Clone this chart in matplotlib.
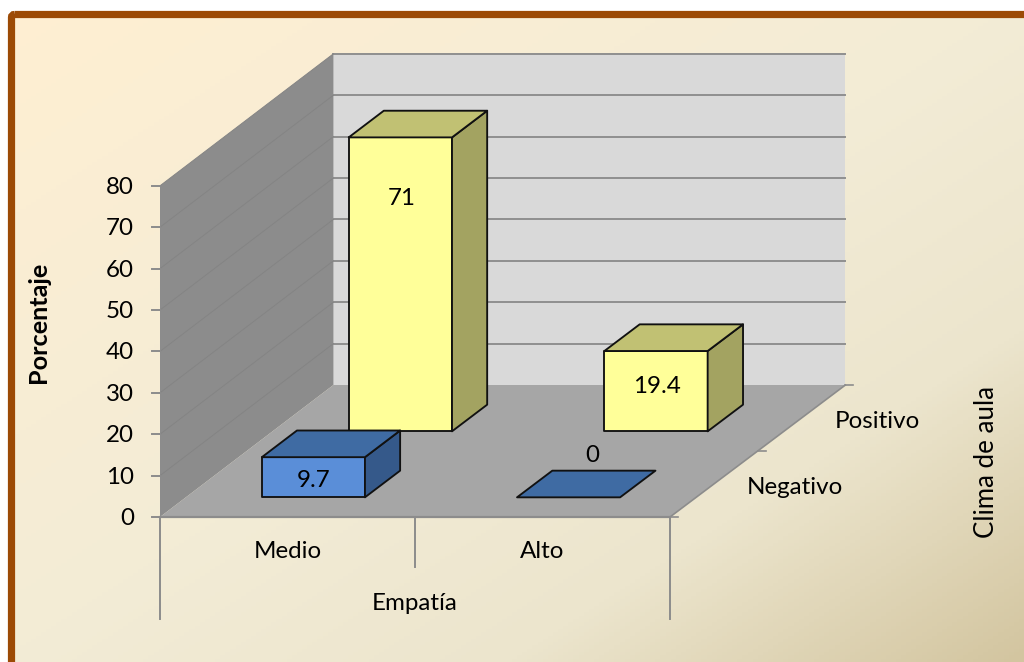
import matplotlib
matplotlib.use("Agg")
import matplotlib.pyplot as plt
import numpy as np
from matplotlib.colors import LinearSegmentedColormap
from matplotlib.patches import FancyBboxPatch, Polygon

plt.rcParams['font.family'] = ['Lato', 'DejaVu Sans']

# Data
categories = ["Medio", "Alto"]
rows = ["Negativo", "Positivo"]
negativo = [9.7, 0]
positivo = [71, 19.4]
value_ticks = [0, 10, 20, 30, 40, 50, 60, 70, 80]

# Oblique projection of the 3D box (pixels)
X0, Y0 = 160, 517
CAT_W = 255
CAT_W_GROW = 0.5  # back of the box is a touch wider than the front
ROW_DX, ROW_DY = 86.7, -66
PX_PER_UNIT = 4.14
BAR_MARGIN = 0.298
VMAX = value_ticks[-1]
TICK_COLOR = "#8c8c8c"
FONT_SIZE = 17.4

# Label offsets from the top of the front face, the 3D chart placed them by hand
LABEL_OFFSET = {("Negativo", 0): (0, 23), ("Negativo", 1): (24, -42),
                ("Positivo", 0): (1, 61), ("Positivo", 1): (1, 35)}


def project(cat, row, value):
    return (X0 + cat * (CAT_W + row * CAT_W_GROW) + row * ROW_DX,
            Y0 - value * PX_PER_UNIT + row * ROW_DY)


def face(ax, corners, color, **kwargs):
    ax.add_patch(Polygon([project(*c) for c in corners], closed=True,
                         facecolor=color, **kwargs))


def draw_bar(ax, cat, row, value, front, top, side):
    c0, c1 = cat + BAR_MARGIN, cat + 1 - BAR_MARGIN
    r0, r1 = row + BAR_MARGIN, row + 1 - BAR_MARGIN
    style = dict(edgecolor="#111111", linewidth=1.35, joinstyle="round", zorder=3)
    if value > 0:
        face(ax, [(c0, r0, 0), (c1, r0, 0), (c1, r0, value), (c0, r0, value)], front, **style)
        face(ax, [(c1, r0, 0), (c1, r1, 0), (c1, r1, value), (c1, r0, value)], side, **style)
    face(ax, [(c0, r0, value), (c1, r0, value), (c1, r1, value), (c0, r1, value)], top, **style)


fig = plt.figure(figsize=(10.24, 6.62), dpi=100)
ax = fig.add_axes([0, 0, 1, 1])
ax.set_xlim(0, 1024)
ax.set_ylim(662, 0)
ax.axis("off")

# Background with brown frame, runs off the right and bottom edges
frame = FancyBboxPatch((11.5, 14.5), 1100, 700, boxstyle="round,pad=0,rounding_size=3",
                       facecolor="none", edgecolor="#9c4a05", linewidth=5.2, zorder=1)
ax.add_patch(frame)
cmap = LinearSegmentedColormap.from_list("bg", [(0, "#ffefd2"), (0.5, "#f3ecd6"),
                                                (0.75, "#ece5cd"), (1, "#d3c5a0")])
yy, xx = np.mgrid[0:1:200j, 0:1:200j]
bg = ax.imshow((xx + yy) / 2, cmap=cmap, extent=(0, 1024, 662, 0), aspect="auto", zorder=0)
bg.set_clip_path(frame)

# Walls and floor
n_cat, n_row = len(categories), len(rows)
face(ax, [(0, n_row, 0), (n_cat, n_row, 0), (n_cat, n_row, VMAX), (0, n_row, VMAX)], "#d9d9d9", zorder=1.1)
face(ax, [(0, 0, 0), (0, n_row, 0), (0, n_row, VMAX), (0, 0, VMAX)], "#8c8c8c", zorder=1.1)
face(ax, [(0, 0, 0), (n_cat, 0, 0), (n_cat, n_row, 0), (0, n_row, 0)], "#a6a6a6", zorder=1.2)

# Gridlines and value ticks
for v in value_ticks:
    xs, ys = zip(project(0, n_row, v), project(n_cat, n_row, v))
    if v > 0:
        ax.plot(xs, ys, color="#8f8f8f", lw=1.4, zorder=1.3)
        xs, ys = zip(project(0, 0, v), project(0, n_row, v))
        ax.plot(xs, ys, color="#848484", lw=0.7, zorder=1.3)
    x, y = project(0, 0, v)
    ax.plot([x - 8, x], [y, y], color=TICK_COLOR, lw=1.4, zorder=2)
    ax.text(x - 26, y + 1.5, str(v), ha="right", va="center", fontsize=FONT_SIZE, color="black")

# Bottom axis lines and category labels
xs, ys = zip(project(0, 0, 0), project(n_cat, 0, 0))
ax.plot(xs, ys, color=TICK_COLOR, lw=1.6, zorder=2)
for i in range(n_cat + 1):
    x, y = project(i, 0, 0)
    drop = 50 if 0 < i < n_cat else 102
    ax.plot([x, x], [y, y + drop], color=TICK_COLOR, lw=1.4, zorder=2)
for i, name in enumerate(categories):
    x, y = project(i + 0.5, 0, 0)
    ax.text(x, y + 35, name, ha="center", va="center", fontsize=FONT_SIZE, color="black")

# Depth axis
xs, ys = zip(project(n_cat, 0, 0), project(n_cat, n_row, 0))
ax.plot(xs, ys, color=TICK_COLOR, lw=1.2, zorder=2)
for r in range(n_row + 1):
    x, y = project(n_cat, r, 0)
    ax.plot([x, x + 8], [y, y], color=TICK_COLOR, lw=1.2, zorder=2)
for r, name in enumerate(rows):
    x, y = project(n_cat, r + 0.5, 0)
    ax.text(x + 33, y + 3, name, ha="left", va="center", fontsize=FONT_SIZE, color="black")

# Bars, back row first
for c, value in enumerate(positivo):
    draw_bar(ax, c, 1, value, "#ffff99", "#c1c173", "#a3a361")
for c, value in enumerate(negativo):
    draw_bar(ax, c, 0, value, "#5a8ed8", "#3f6ba3", "#35598a")

# Value labels
for name, series, r in (("Negativo", negativo, 0), ("Positivo", positivo, 1)):
    for c, value in enumerate(series):
        x, y = project(c + 0.5, r + BAR_MARGIN, value)
        dx, dy = LABEL_OFFSET[(name, c)]
        ax.text(x + dx, y + dy, f"{value:g}", ha="center", va="center",
                fontsize=FONT_SIZE, color="black", zorder=4)

# Axis titles
ax.text(39, 322, "Porcentaje", rotation=90, ha="center", va="center", fontsize=18.2, fontweight="bold")
ax.text(415, 604, "Empatía", ha="center", va="center", fontsize=FONT_SIZE)
ax.text(987, 462, "Clima de aula", rotation=90, ha="center", va="center", fontsize=18.6)

fig.savefig("out.png", dpi=100)
